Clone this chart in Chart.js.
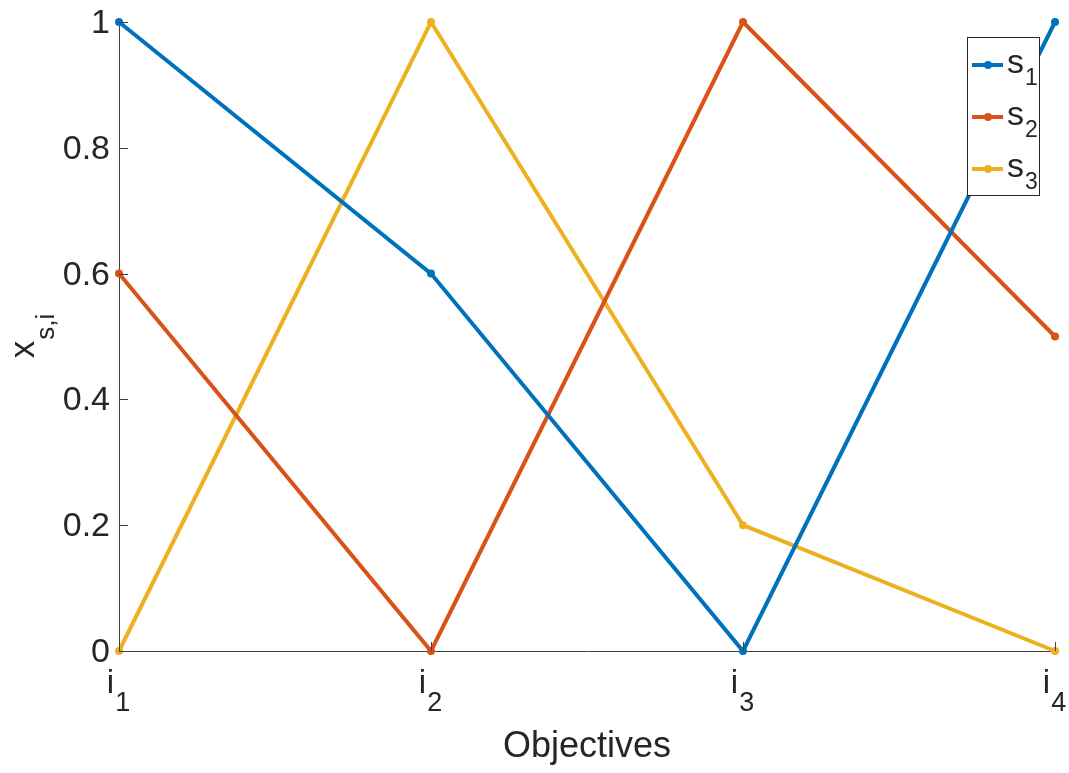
<!DOCTYPE html>
<html>
<head>
<meta charset="utf-8">
<script src="https://cdn.jsdelivr.net/npm/chart.js@4"></script>
<style>
body { margin: 0; background: #fff; }
</style>
</head>
<body>
<canvas id="lineChart" width="1069" height="773"></canvas>
<script>
// data
var categories = ['1', '2', '3', '4'];          // subscripts of i
var s1 = [1, 0.6, 0, 1];
var s2 = [0.6, 0, 1, 0.5];
var s3 = [0, 1, 0.2, 0];
var seriesNames = ['1', '2', '3'];              // subscripts of s
var yTicks = [0, 0.2, 0.4, 0.6, 0.8, 1];

var colors = ['#0072BD', '#D95319', '#EDB120'];
var FONT = 'Liberation Sans, Arial, Helvetica, sans-serif';
var TXT = '#262626';

// text with a subscript, starting at x (baseline y)
function subText(ctx, base, sub, x, y, size, subSize, drop) {
    ctx.font = size + 'px ' + FONT;
    ctx.fillText(base, x, y);
    var w = ctx.measureText(base).width;
    ctx.font = subSize + 'px ' + FONT;
    ctx.fillText(sub, x + w + 1, y + drop);
}
function subWidth(ctx, base, sub, size, subSize) {
    ctx.font = size + 'px ' + FONT;
    var w = ctx.measureText(base).width;
    ctx.font = subSize + 'px ' + FONT;
    return w + 1 + ctx.measureText(sub).width;
}

var matlabAxes = {
    id: 'matlabAxes',
    afterDraw: function (chart) {
        var ctx = chart.ctx;
        var xs = chart.scales.x, ys = chart.scales.y;
        var area = chart.chartArea;
        ctx.save();
        ctx.fillStyle = TXT;
        ctx.strokeStyle = '#404040';
        ctx.lineWidth = 1;

        // y ticks (inward) + labels
        yTicks.forEach(function (v) {
            var py = Math.round(ys.getPixelForValue(v)) + 0.5;
            ctx.beginPath();
            ctx.moveTo(area.left, py);
            ctx.lineTo(area.left + 9, py);
            ctx.stroke();
            ctx.font = '34px ' + FONT;
            ctx.textAlign = 'right';
            ctx.textBaseline = 'middle';
            ctx.fillText(String(v), 110, py + 1);
        });

        // x ticks (inward) + labels i_n
        ctx.textAlign = 'left';
        ctx.textBaseline = 'alphabetic';
        categories.forEach(function (c, i) {
            var px = Math.round(xs.getPixelForValue(i)) + 0.5;
            ctx.beginPath();
            ctx.moveTo(px, area.bottom);
            ctx.lineTo(px, area.bottom - 9);
            ctx.stroke();
            var w = subWidth(ctx, 'i', c, 33, 27);
            subText(ctx, 'i', c, px - w / 2 - 1, 693, 33, 27, 18);
        });

        // axis titles
        ctx.font = '36px ' + FONT;
        ctx.textAlign = 'center';
        ctx.fillText('Objectives', (area.left + area.right) / 2, 757);

        ctx.save();
        ctx.translate(34, 336);
        ctx.rotate(-Math.PI / 2);
        ctx.textAlign = 'left';
        var tw = subWidth(ctx, 'x', 's,i', 35, 26);
        subText(ctx, 'x', 's,i', -tw / 2, 0, 35, 26, 20);
        ctx.restore();

        // legend box
        ctx.fillStyle = '#fff';
        ctx.fillRect(967, 37, 72, 158);
        ctx.strokeStyle = '#262626';
        ctx.lineWidth = 1;
        ctx.strokeRect(967.5, 37.5, 72, 158);
        ctx.textAlign = 'left';
        seriesNames.forEach(function (n, i) {
            var ly = 65 + i * 52;
            ctx.strokeStyle = colors[i];
            ctx.lineWidth = 4;
            ctx.beginPath();
            ctx.moveTo(972, ly);
            ctx.lineTo(1003, ly);
            ctx.stroke();
            ctx.fillStyle = colors[i];
            ctx.beginPath();
            ctx.arc(988, ly, 4, 0, Math.PI * 2);
            ctx.fill();
            ctx.fillStyle = TXT;
            subText(ctx, 's', n, 1007, ly + 8, 34, 23, 12);
        });
        ctx.restore();
    }
};

function ds(label, values, color) {
    return {
        label: label,
        data: values,
        borderColor: color,
        backgroundColor: color,
        borderWidth: 4,
        pointRadius: 4,
        pointBorderWidth: 0,
        pointBackgroundColor: color,
        tension: 0,
        clip: false
    };
}

var ctxL = document.getElementById('lineChart').getContext('2d');
var myLineChart = new Chart(ctxL, {
    type: 'line',
    data: {
        labels: categories,
        datasets: [ds('s1', s1, colors[0]), ds('s2', s2, colors[1]), ds('s3', s3, colors[2])]
    },
    options: {
        responsive: false,
        animation: false,
        layout: { padding: { left: 111, right: 14, top: 22, bottom: 114 } },
        plugins: { legend: { display: false }, tooltip: { enabled: false } },
        scales: {
            x: {
                offset: false,
                grid: { display: false },
                ticks: { display: false },
                border: { display: true, color: '#404040', width: 1 }
            },
            y: {
                min: 0,
                max: 1,
                grid: { display: false },
                ticks: { display: false },
                border: { display: true, color: '#404040', width: 1 }
            }
        }
    },
    plugins: [matlabAxes]
});
</script>
</body>
</html>
